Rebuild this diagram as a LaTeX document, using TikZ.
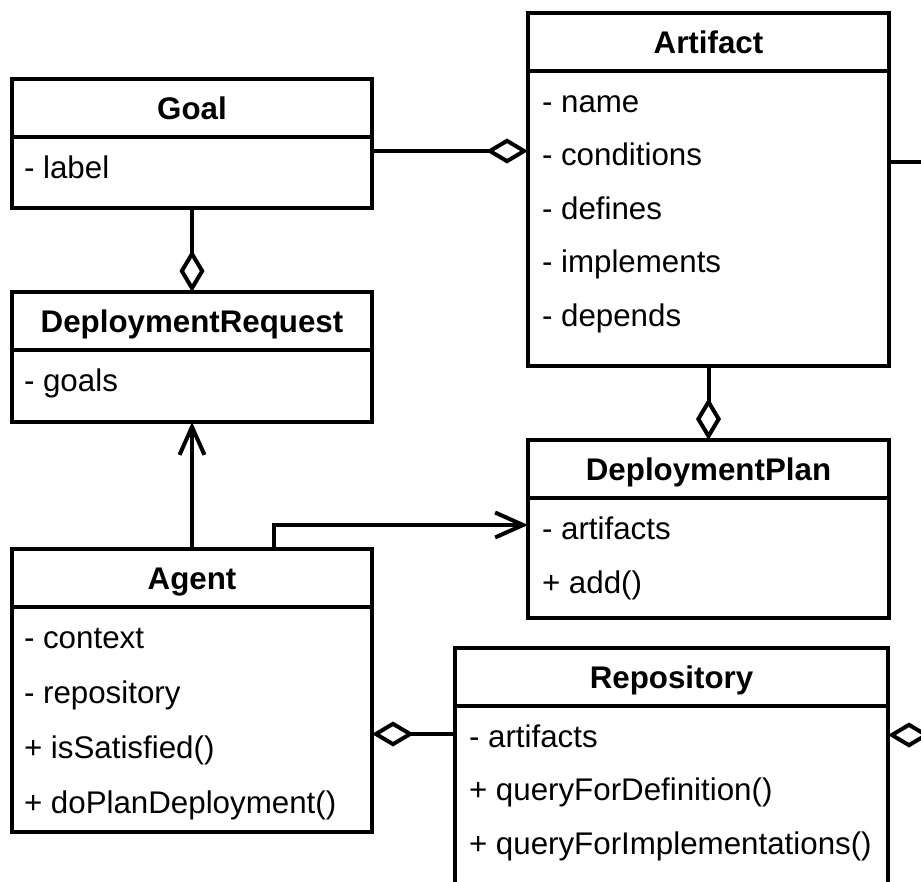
\documentclass[tikz,border=0pt]{standalone}
\usepackage{fontspec}
\setmainfont{Liberation Sans}
\usetikzlibrary{arrows.meta,calc}

% A UML class box: name, top-left x, top-left y, width, height, title
\newcommand\umlbox[6]{%
  \node[classbox, minimum width=#4pt, minimum height=#5pt] (#1) at (#2,#3) {};
  \draw ($(#1.north west)+(0,58)$) -- ($(#1.north east)+(0,58)$);
  \node[classtitle] (#1-title) at ($(#1.north)+(0,40)$) {#6};
}
% Members of a class: name, left inset, line spacing, list of members
\newcommand\umlmembers[4]{%
  \foreach \t [count=\i] in {#4}
    \node[classmember] (#1-m\i) at ($(#1.north west)+(#2,{99+(\i-1)*#3})$) {\t};
}

\begin{document}
\begin{tikzpicture}[x=1pt, y=-1pt, line width=4pt, line join=miter,
  classbox/.style={draw, rectangle, outer sep=0pt, inner sep=0pt, anchor=north west},
  classtitle/.style={font=\fontsize{31.3}{31.3}\selectfont\bfseries, anchor=base, inner sep=0pt},
  classmember/.style={font=\fontsize{31.3}{31.3}\selectfont, anchor=base west, inner sep=0pt},
  aggr/.style={-{Diamond[open, length=42pt, width=25pt]}},
  assoc/.style={-{Straight Barb[length=28pt, width=25pt]}}]

\path[use as bounding box, fill=white] (0,0) rectangle (921,881);
\clip (0,0) rectangle (921,881);

% classes
\umlbox{goal}{12}{79}{360}{129}{Goal}
\umlmembers{goal}{10}{54}{- label}

\umlbox{request}{12}{292}{360}{130}{DeploymentRequest}
\umlmembers{request}{10}{54}{- goals}

\umlbox{artifact}{528}{13}{361}{353}{Artifact}
\umlmembers{artifact}{12}{53.5}{- name, - conditions, - defines, - implements, - depends}

\umlbox{plan}{528}{440}{361}{178}{DeploymentPlan}
\umlmembers{plan}{12}{54}{- artifacts, + add()}

\umlbox{agent}{12}{549}{360}{283}{Agent}
\umlmembers{agent}{10}{55}{- context, - repository, + isSatisfied(), + doPlanDeployment()}

\umlbox{repository}{455}{648}{433}{280}{Repository}
\umlmembers{repository}{12}{53.5}{- artifacts, + queryForDefinition(), + queryForImplementations()}

% routing points
\coordinate (c-ga) at (0,151);
\coordinate (c-bend) at (274,525);
\coordinate (c-ra) at (0,734);
\coordinate (c-out1) at (940,162);
\coordinate (c-out2) at (960,735);

% relations
\draw[aggr] (goal.east |- c-ga) -- (artifact.west |- c-ga);
\draw[aggr] (goal.south) -- (request.north);
\draw[aggr] (artifact.south) -- (plan.north);
\draw[assoc] (agent.north) -- (request.south);
\draw[assoc] (agent.north -| c-bend) |- (plan.west |- c-bend);
\draw[aggr] (repository.west |- c-ra) -- (agent.east |- c-ra);
\draw (artifact.east |- c-out1) -- (c-out1);
\draw[aggr] (c-out2) -- (repository.east |- c-out2);
\end{tikzpicture}
\end{document}
